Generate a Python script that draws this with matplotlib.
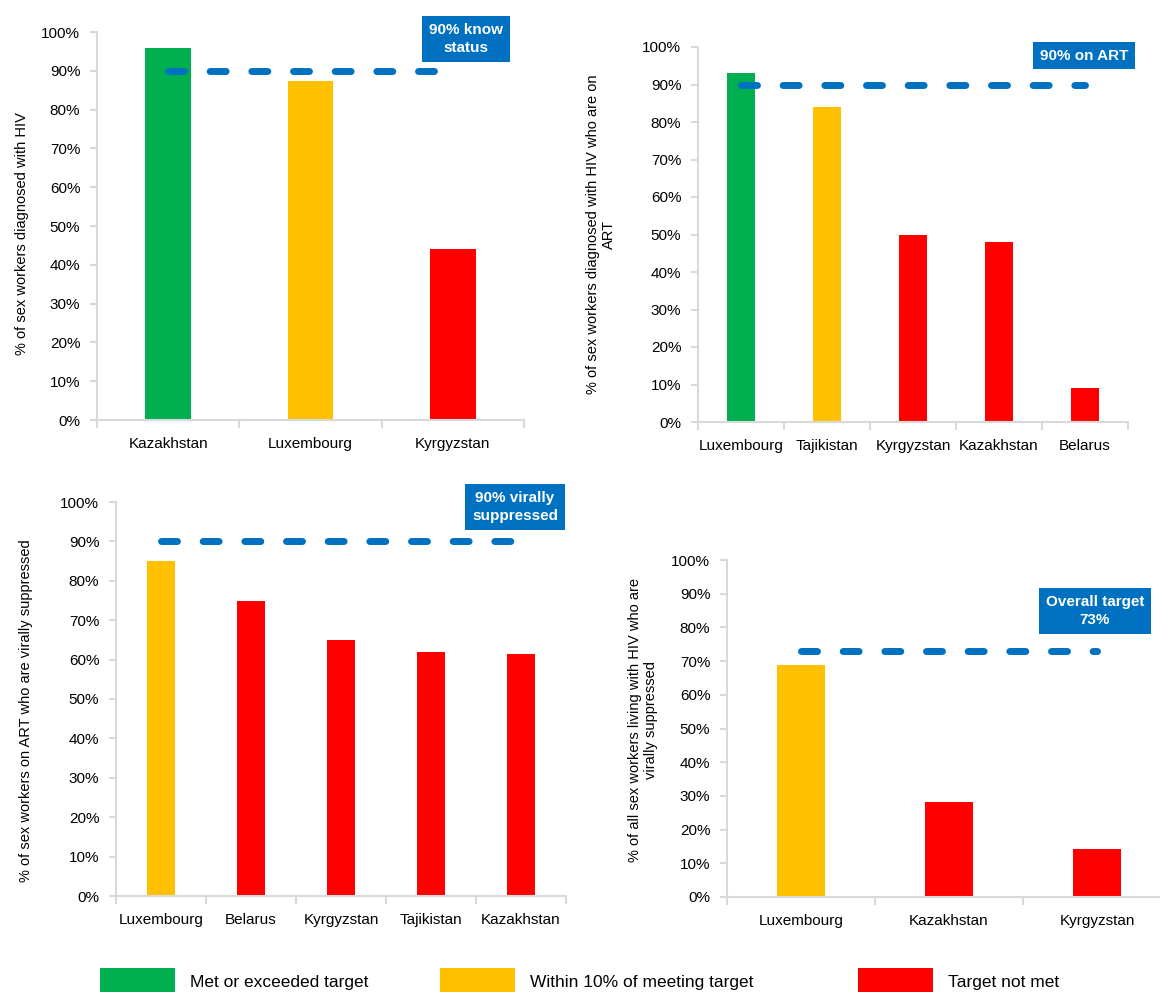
import matplotlib
matplotlib.use("Agg")
import matplotlib.pyplot as plt
from matplotlib import patches
import numpy as np

plt.rcParams['font.family'] = ['Liberation Sans', 'DejaVu Sans']
plt.rcParams['lines.scale_dashes'] = False

GREEN = '#00B050'
YELLOW = '#FFC000'
RED = '#FF0000'
BLUE = '#0070C0'
GRID = '#D9D9D9'

## data
know_countries = ['Kazakhstan', 'Luxembourg', 'Kyrgyzstan']
know_values = [96, 87.5, 44]
know_colors = [GREEN, YELLOW, RED]

art_countries = ['Luxembourg', 'Tajikistan', 'Kyrgyzstan', 'Kazakhstan', 'Belarus']
art_values = [93, 84, 50, 48, 9]
art_colors = [GREEN, YELLOW, RED, RED, RED]

vs_countries = ['Luxembourg', 'Belarus', 'Kyrgyzstan', 'Tajikistan', 'Kazakhstan']
vs_values = [85, 75, 65, 62, 61.5]
vs_colors = [YELLOW, RED, RED, RED, RED]

all_countries = ['Luxembourg', 'Kazakhstan', 'Kyrgyzstan']
all_values = [68.7, 28.3, 14.3]
all_colors = [YELLOW, RED, RED]

targets = [90, 90, 90, 73]
target_labels = ['90% know\nstatus', '90% on ART', '90% virally\nsuppressed', 'Overall target\n73%']
ylabels = ['% of sex workers diagnosed with HIV',
           '% of sex workers diagnosed with HIV who are on\nART',
           '% of sex workers on ART who are virally suppressed',
           '% of all sex workers living with HIV who are\nvirally suppressed']

legend_labels = ['Met or exceeded target', 'Within 10% of meeting target', 'Target not met']
legend_colors = [GREEN, YELLOW, RED]

W, H = 1160, 992
fig = plt.figure(figsize=(W / 100, H / 100), dpi=100)


def px_axes(l, r, b, t):
    return fig.add_axes([l / W, 1 - b / H, (r - l) / W, (b - t) / H])


## axes positions in pixels (left, right, y of 0%, y of 100%)
axes = [px_axes(97, 524, 420, 32),
        px_axes(698, 1128, 422, 47),
        px_axes(116, 566, 896, 502),
        px_axes(727, 1171, 897, 560)]

panels = [(know_countries, know_values, know_colors),
          (art_countries, art_values, art_colors),
          (vs_countries, vs_values, vs_colors),
          (all_countries, all_values, all_colors)]

ylabel_x = [-0.175, -0.225, -0.2, -0.19]
ylabel_y = [0.48, 0.5, 0.47, 0.525]

for i, ax in enumerate(axes):
    cats, vals, cols = panels[i]
    n = len(cats)
    x = np.arange(n)
    ax.bar(x, vals, width=0.32, color=cols, zorder=2)
    ax.plot([0, n - 1], [targets[i], targets[i]], color=BLUE, lw=5,
            dashes=(11.5, 18.5), dash_capstyle='round', zorder=3, clip_on=False)
    ax.set_xlim(-0.5, n - 0.5)
    ax.set_ylim(0, 100)
    ax.set_yticks(np.arange(0, 101, 10))
    ax.set_yticklabels([f'{v}%' for v in range(0, 101, 10)])
    ax.set_xticks(x)
    ax.set_xticklabels(cats)
    ax.set_xticks(np.arange(n + 1) - 0.5, minor=True)
    ax.tick_params(axis='x', which='major', length=0, pad=12, labelsize=11)
    ax.tick_params(axis='x', which='minor', length=6, color=GRID, width=1.5)
    ax.tick_params(axis='y', length=5, color=GRID, width=1.5, pad=7, labelsize=11)
    for s in ['top', 'right']:
        ax.spines[s].set_visible(False)
    for s in ['left', 'bottom']:
        ax.spines[s].set_color(GRID)
        ax.spines[s].set_linewidth(1.5)
    ax.text(ylabel_x[i], ylabel_y[i], ylabels[i], transform=ax.transAxes,
            rotation=90, ha='center', va='center', multialignment='center', fontsize=10.5)

## target boxes (pixel centres)
box_pos = [(466, 39), (1084, 55.5), (515, 507), (1095, 611)]
for (bx, by), lab in zip(box_pos, target_labels):
    fig.text(bx / W, 1 - by / H, lab, ha='center', va='center', color='white',
             fontsize=11, fontweight='bold', linespacing=1.3,
             bbox=dict(boxstyle='square,pad=0.45', facecolor=BLUE, edgecolor='none'))

## legend at bottom
legend_x = [100, 440, 858]
for lx, lab, col in zip(legend_x, legend_labels, legend_colors):
    fig.add_artist(patches.Rectangle((lx / W, 0), 75 / W, 24 / H, transform=fig.transFigure,
                                     facecolor=col, edgecolor='none'))
    fig.text((lx + 90) / W, 1 - 983 / H, lab, ha='left', va='center', fontsize=12.5)

fig.savefig('out.png', dpi=100)
